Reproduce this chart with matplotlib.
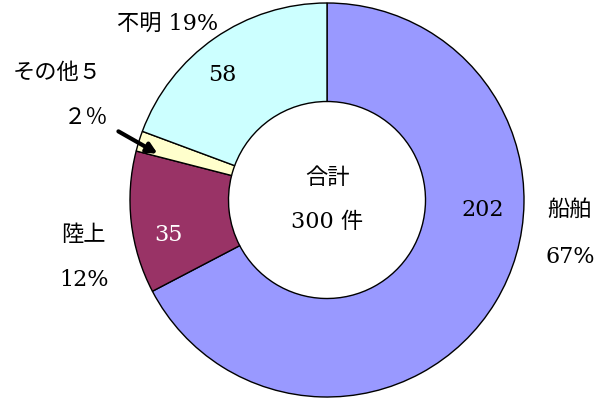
import matplotlib
matplotlib.use('Agg')
import matplotlib.pyplot as plt

plt.rcParams['font.family'] = ['DejaVu Serif', 'Noto Sans CJK JP']

categories = ['船舶', '陸上', 'その他', '不明']
counts = [202, 35, 5, 58]
colors = ['#9999FF', '#993366', '#FFFFCC', '#CCFFFF']
total = sum(counts)
pcts = [round(c / total * 100) for c in counts]

fig = plt.figure(figsize=(5.99, 4.0), dpi=100)
ax = fig.add_axes([0, 0, 1, 1])

cx, cy, R = 327, 200, 197
# y axis gets inverted below, so counterclock=True reads clockwise on screen
ax.pie(counts, colors=colors, startangle=-90, counterclock=True,
       center=(cx, cy), radius=R, frame=True,
       wedgeprops=dict(width=R * 0.5, edgecolor='black', linewidth=1.0))
ax.set_xlim(0, 599)
ax.set_ylim(400, 0)
ax.set_aspect('equal')
ax.axis('off')

fs = 16
# values inside the ring
ax.text(483, 210, str(counts[0]), fontsize=fs, ha='center', va='center')
ax.text(168, 235, str(counts[1]), fontsize=fs, ha='center', va='center', color='white')
ax.text(222, 75, str(counts[3]), fontsize=fs, ha='center', va='center')

# outside labels
ax.text(570, 210, categories[0], fontsize=fs, ha='center', va='center')
ax.text(570, 257, f'{pcts[0]}%', fontsize=fs, ha='center', va='center')
ax.text(83, 235, categories[1], fontsize=fs, ha='center', va='center')
ax.text(84, 280, f'{pcts[1]}%', fontsize=fs, ha='center', va='center')
ax.text(57, 73, categories[2] + '５', fontsize=fs, ha='center', va='center')
ax.text(86, 118, '２％', fontsize=fs, ha='center', va='center')
ax.text(168, 25, f'{categories[3]} {pcts[3]}%', fontsize=fs, ha='center', va='center')

ax.annotate('', xy=(160, 155), xytext=(116, 130),
            arrowprops=dict(arrowstyle='-|>', color='black', lw=3, mutation_scale=15))

# centre
ax.text(cx, 178, '合計', fontsize=fs, ha='center', va='center')
ax.text(cx, 222, f'{total} 件', fontsize=fs, ha='center', va='center')

fig.savefig('out.png', dpi=100)
